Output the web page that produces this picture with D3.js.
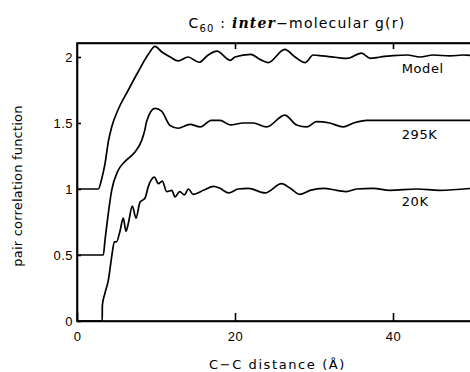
<!DOCTYPE html>
<html>
<head>
<meta charset="utf-8">
<script src="https://cdn.jsdelivr.net/npm/d3@7"></script>
<style>
  body { margin: 0; background: #fff; }
  svg { display: block; font-family: "DejaVu Sans", sans-serif; }
  .axis path, .axis line { stroke: #000; stroke-width: 1.6; }
  .axis text { font-size: 13px; fill: #000; letter-spacing: 0.5px; }
</style>
</head>
<body>
<div id="chart"></div>
<script>
// r in Angstrom, g(r) plotted with its offset
let modelR = [0, 2.7, 3.1, 3.54, 3.97, 4.39, 5.2, 6.5, 7.76, 9.03,
              9.87, 10.7, 11.8, 12.8, 14.05, 15.44, 16.6, 17.7, 19.4, 20.0,
              22.0, 23.2, 24.2, 26.3, 27.6, 28.9, 29.9, 31.1, 32.9, 34.2,
              36.0, 37.1, 38.4, 40.0, 41.8, 43.4, 45.1, 47.2, 48.9, 50];
let modelG = [1.0, 1.0, 1.07, 1.19, 1.36, 1.47, 1.60, 1.75, 1.89, 2.02,
              2.08, 2.04, 2.0, 1.97, 2.0, 1.96, 2.015, 2.045, 1.975, 2.0,
              2.02, 1.98, 1.958, 2.058, 2.0, 1.958, 2.015, 2.008, 1.996, 1.99,
              2.03, 1.99, 2.0, 2.01, 2.015, 2.0, 2.015, 2.008, 2.015, 2.01];

let r295 = [0, 3.33, 3.54, 3.76, 4.39, 5.2, 6.1, 7.34, 8.2, 8.6,
            8.8, 9.87, 10.7, 11.8, 12.8, 14.3, 15.6, 17.0, 18.1, 19.4,
            21.05, 22.3, 24.0, 26.3, 27.8, 29.1, 30.3, 32.0, 33.7, 35.0,
            36.7, 39.6, 43.8, 50];
let g295 = [0.5, 0.5, 0.61, 0.72, 0.99, 1.14, 1.21, 1.28, 1.37, 1.45,
            1.51, 1.61, 1.59, 1.48, 1.46, 1.49, 1.47, 1.52, 1.52, 1.485,
            1.50, 1.50, 1.47, 1.56, 1.485, 1.47, 1.51, 1.50, 1.47, 1.50,
            1.52, 1.52, 1.52, 1.52];

let r20 = [0, 3.19, 3.21, 3.54, 3.97, 4.4, 4.73, 5.0, 5.44, 5.86,
           6.2, 6.5, 7.0, 7.47, 7.97, 8.6, 9.03, 9.8, 10.3, 10.8,
           11.35, 12.0, 12.4, 13.0, 13.6, 14.1, 14.7, 16.0, 17.3, 18.1,
           19.2, 20.4, 21.7, 23.8, 25.9, 27.0, 28.2, 29.5, 31.2, 32.9,
           34.1, 35.4, 37.5, 39.6, 43.0, 45.9, 50];
let g20 = [0, 0, 0.12, 0.21, 0.31, 0.49, 0.60, 0.60, 0.68, 0.78,
           0.68, 0.74, 0.87, 0.78, 0.90, 0.93, 1.02, 1.09, 1.04, 1.06,
           0.98, 0.99, 0.94, 0.98, 0.955, 1.0, 0.96, 0.99, 1.02, 1.005,
           0.97, 1.0, 1.005, 0.97, 1.04, 1.005, 0.96, 0.99, 1.005, 0.99,
           0.98, 1.0, 1.005, 0.99, 1.0, 0.99, 1.005];

let seriesNames = ["Model", "295K", "20K"];
let labelLevels = [1.88, 1.38, 0.87];   // y value where each name sits
let xTicks = [0, 20, 40];
let yTicks = [0, 0.5, 1, 1.5, 2];

// Set the dimensions and margins of the graph
let margin = {top: 43, right: -2, bottom: 51, left: 77},
    width = 470 - margin.left - margin.right,
    height = 372 - margin.top - margin.bottom;

let svg = d3.select("#chart").append("svg")
    .attr("width", 470)
    .attr("height", 372)
    .style("overflow", "hidden");

let g = svg.append("g")
    .attr("transform", "translate(" + margin.left + "," + margin.top + ")");

let x = d3.scaleLinear().domain([0, 50]).range([0, width]);
let y = d3.scaleLinear().domain([0, 2.106]).range([height, 0]);

// Frame
g.append("rect")
    .attr("width", width)
    .attr("height", height)
    .attr("fill", "none")
    .attr("stroke", "#000")
    .attr("stroke-width", 1.6);

// Axes with inward ticks
g.append("g")
    .attr("class", "axis")
    .attr("transform", "translate(0," + height + ")")
    .call(d3.axisBottom(x).tickValues(xTicks).tickSizeInner(-8).tickSizeOuter(0).tickPadding(11));

g.append("g")
    .attr("class", "axis")
    .call(d3.axisTop(x).tickValues(xTicks.slice(1)).tickSizeInner(-6).tickSizeOuter(0).tickFormat(""));

g.append("g")
    .attr("class", "axis")
    .call(d3.axisLeft(y).tickValues(yTicks).tickSizeInner(-4).tickSizeOuter(0).tickPadding(4)
        .tickFormat(d3.format("")));

// Curves
let line = d3.line()
    .x(d => x(d[0]))
    .y(d => y(d[1]))
    .curve(d3.curveMonotoneX);

let curves = [d3.zip(modelR, modelG), d3.zip(r295, g295), d3.zip(r20, g20)];

g.append("g").selectAll("path.curve")
    .data(curves)
    .enter().append("path")
    .attr("class", "curve")
    .attr("d", line)
    .attr("fill", "none")
    .attr("stroke", "#000")
    .attr("stroke-width", 1.7)
    .attr("stroke-linejoin", "round");

// Series names
g.append("g").selectAll("text")
    .data(seriesNames)
    .enter().append("text")
    .attr("x", x(41.1))
    .attr("y", (d, i) => y(labelLevels[i]))
    .attr("font-size", "13px")
    .attr("letter-spacing", "0.6px")
    .text(d => d);

// Title
let title = svg.append("text")
    .attr("x", 297)
    .attr("y", 28)
    .attr("text-anchor", "middle")
    .attr("font-size", "14px")
    .attr("letter-spacing", "1.2px");
title.append("tspan").text("C");
title.append("tspan").attr("font-size", "10px").attr("dy", 4).text("60");
title.append("tspan").attr("dy", -4).text(" : ");
title.append("tspan")
    .attr("font-family", "DejaVu Serif")
    .attr("font-style", "italic")
    .attr("font-weight", "bold")
    .text("inter");
title.append("tspan").text("\u2212molecular g(r)");

// Axis titles
svg.append("text")
    .attr("x", margin.left + width / 2 + 3)
    .attr("y", 369)
    .attr("text-anchor", "middle")
    .attr("font-size", "13px")
    .attr("letter-spacing", "1.6px")
    .text("C\u2212C distance (\u00C5)");

svg.append("text")
    .attr("transform", "translate(22," + (margin.top + height / 2 + 4) + ") rotate(-90)")
    .attr("text-anchor", "middle")
    .attr("font-size", "13px")
    .attr("letter-spacing", "0.2px")
    .text("pair correlation function");
</script>
</body>
</html>
